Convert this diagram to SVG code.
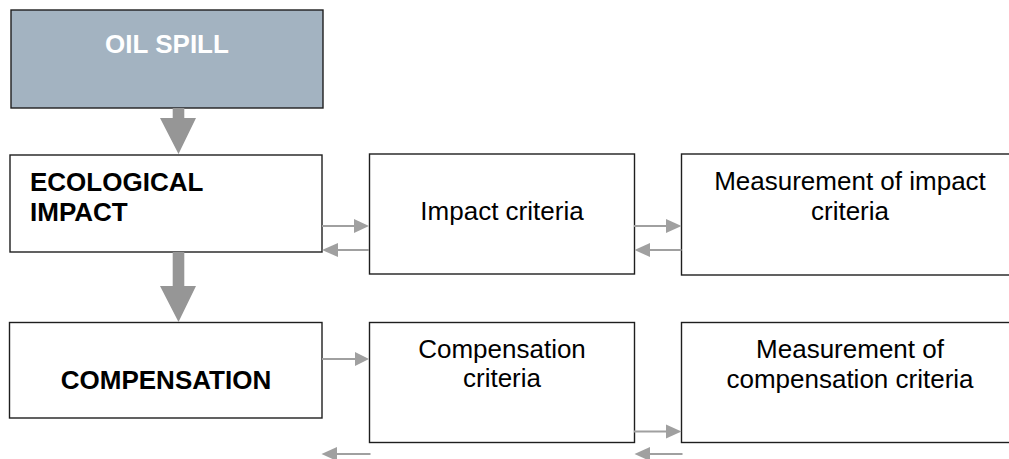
<svg xmlns="http://www.w3.org/2000/svg" width="1009" height="459" viewBox="0 0 1009 459">
<defs>
<style>
.box{fill:#ffffff;stroke:#1e1e1e;stroke-width:1.4}
.t{font-family:"Liberation Sans",Arial,sans-serif;font-size:26px;fill:#000}
.b{font-weight:bold}
.c{text-anchor:middle}
.big{fill:#969696}
.sm{stroke:#a0a0a0;stroke-width:2;fill:none}
.hd{fill:#a0a0a0}
</style>
</defs>
<rect width="1009" height="459" fill="#ffffff"/>
<g id="oil-spill">
<rect x="11" y="10" width="312" height="98" fill="#a3b3c1" stroke="#1e1e1e" stroke-width="1.4"/>
<text class="t b c" x="167" y="53" fill="#ffffff" style="fill:#ffffff">OIL SPILL</text>
</g>
<g id="ecological-impact">
<rect class="box" x="10" y="155" width="312" height="97"/>
<text class="t b" x="30" y="191">ECOLOGICAL</text>
<text class="t b" x="30" y="221">IMPACT</text>
</g>
<g id="impact-criteria">
<rect class="box" x="369.5" y="154" width="265" height="120"/>
<text class="t c" x="502" y="220">Impact criteria</text>
</g>
<g id="measurement-impact">
<rect class="box" x="681.5" y="154" width="340" height="121"/>
<text class="t c" x="850" y="190">Measurement of impact</text>
<text class="t c" x="850" y="220">criteria</text>
</g>
<g id="compensation">
<rect class="box" x="9.5" y="322.5" width="312.5" height="95.5"/>
<text class="t b c" x="166" y="389">COMPENSATION</text>
</g>
<g id="compensation-criteria">
<rect class="box" x="369.5" y="322.5" width="265" height="120"/>
<text class="t c" x="502" y="358">Compensation</text>
<text class="t c" x="502" y="387">criteria</text>
</g>
<g id="measurement-compensation">
<rect class="box" x="681.5" y="322.5" width="340" height="120"/>
<text class="t c" x="850" y="358">Measurement of</text>
<text class="t c" x="850" y="388">compensation criteria</text>
</g>
<g id="connectors">
<polygon class="big" points="172.7,108 184.3,108 184.3,118 196,118 178.5,154 160,118 172.7,118"/>
<polygon class="big" points="172.7,252 184.3,252 184.3,286 196,286 178.5,322 160,286 172.7,286"/>
<line class="sm" x1="322" y1="226" x2="355" y2="226"/>
<polygon class="hd" points="354,219 369,226 354,233"/>
<line class="sm" x1="369" y1="250" x2="337" y2="250"/>
<polygon class="hd" points="338,243 322,250 338,257"/>
<line class="sm" x1="634" y1="226" x2="667" y2="226"/>
<polygon class="hd" points="666,219 681.5,226 666,233"/>
<line class="sm" x1="681.5" y1="250" x2="649" y2="250"/>
<polygon class="hd" points="650,243 634.5,250 650,257"/>
<line class="sm" x1="322" y1="359" x2="356" y2="359"/>
<polygon class="hd" points="355,352 369,359 355,366"/>
<line class="sm" x1="370.5" y1="454" x2="336" y2="454"/>
<polygon class="hd" points="337,447 321.5,454 337,461"/>
<line class="sm" x1="634" y1="431.5" x2="667" y2="431.5"/>
<polygon class="hd" points="666,424.5 681.5,431.5 666,438.5"/>
<line class="sm" x1="682.5" y1="454" x2="649" y2="454"/>
<polygon class="hd" points="650,447 634.5,454 650,461"/>
</g>
</svg>
